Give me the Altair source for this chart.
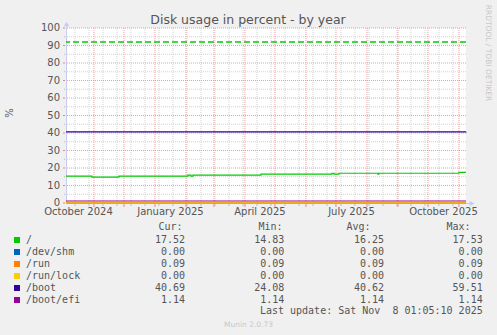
import altair as alt
import pandas as pd

# ---------------- data ----------------
names = ["/", "/dev/shm", "/run", "/run/lock", "/boot", "/boot/efi"]
colors = ["#00CC00", "#0066B3", "#FF8000", "#FFCC00", "#330099", "#990099"]

cur_vals = [17.52, 0.00, 0.09, 0.00, 40.69, 1.14]
min_vals = [14.83, 0.00, 0.09, 0.00, 24.08, 1.14]
avg_vals = [16.25, 0.00, 0.09, 0.00, 40.62, 1.14]
max_vals = [17.53, 0.00, 0.09, 0.00, 59.51, 1.14]

root_dates = ["2024-10-04T01:05:10", "2024-10-30T00:00:00", "2024-11-26T00:00:00",
              "2025-02-03T00:00:00", "2025-02-06T00:00:00", "2025-02-08T00:00:00",
              "2025-04-17T00:00:00", "2025-06-27T00:00:00", "2025-06-29T00:00:00",
              "2025-07-04T00:00:00", "2025-08-12T00:00:00", "2025-08-13T00:00:00",
              "2025-11-01T00:00:00", "2025-11-08T01:05:10"]
root_vals = [15.35, 14.83, 15.35, 15.9, 15.35, 15.9, 16.45, 17.0, 16.45, 17.0,
             16.5, 17.0, 17.52, 17.52]

span_dates = ["2024-10-04T01:05:10", "2025-11-08T01:05:10"]
shm_vals = [0.00, 0.00]
run_vals = [0.09, 0.09]
lock_vals = [0.00, 0.00]
boot_vals = [40.62, 40.69]
efi_vals = [1.14, 1.14]

warning_level = [92]

x_label_dates = ["2024-10-16T12:00:00", "2025-01-16T12:00:00", "2025-04-16T00:00:00",
                 "2025-07-16T12:00:00", "2025-10-16T12:00:00"]
x_label_text = ["October 2024", "January 2025", "April 2025", "July 2025", "October 2025"]
month_lines = ["2024-11-01", "2024-12-01", "2025-01-01", "2025-02-01", "2025-03-01",
               "2025-04-01", "2025-05-01", "2025-06-01", "2025-07-01", "2025-08-01",
               "2025-09-01", "2025-10-01", "2025-11-01"]
week_lines = [d.strftime("%Y-%m-%dT00:00:00") for d in
              pd.date_range("2024-10-13", "2025-11-08", freq="14D")]
y_ticks = list(range(0, 101, 10))
y_minor = list(range(5, 100, 10))

footer_text = "Last update: Sat Nov\u00a0\u00a08 01:05:10 2025"
version_text = "Munin 2.0.73"
title_text = "Disk usage in percent - by year"
side_text = "RRDTOOL / TOBI OETIKER"
y_title = "%"

# ---------------- chart ----------------
series_data = [("/", root_dates, root_vals), ("/dev/shm", span_dates, shm_vals),
               ("/run", span_dates, run_vals), ("/run/lock", span_dates, lock_vals),
               ("/boot", span_dates, boot_vals), ("/boot/efi", span_dates, efi_vals)]

x_scale = alt.Scale(domain=[alt.DateTime(year=2024, month=10, date=4, hours=1, minutes=5),
                            alt.DateTime(year=2025, month=11, date=8, hours=1, minutes=5)])
y_scale = alt.Scale(domain=[0, 100], nice=False, zero=True)
color_scale = alt.Scale(domain=names, range=colors)

FONT = "DejaVu Sans"
MONO = "DejaVu Sans Mono"
TXT = "#555555"
MAJOR = "#eaa0a0"
MINOR = "#d2d2d2"
AXIS = "#c8ccf0"

month_ts = [m + "T00:00:00" for m in month_lines]

def X(field):
    return alt.X(field, scale=x_scale, axis=None)

def Y(field):
    return alt.Y(field, scale=y_scale, axis=None)

layers = []

# grid
layers.append(alt.Chart(pd.DataFrame({"d": week_lines})).mark_rule(
    color=MINOR, strokeDash=[1, 1], strokeWidth=1).encode(x=X("d:T")))
layers.append(alt.Chart(pd.DataFrame({"v": y_minor})).mark_rule(
    color=MINOR, strokeDash=[1, 1], strokeWidth=1).encode(y=Y("v:Q")))
layers.append(alt.Chart(pd.DataFrame({"d": month_ts})).mark_rule(
    color=MAJOR, strokeDash=[1, 1], strokeWidth=1).encode(x=X("d:T")))
layers.append(alt.Chart(pd.DataFrame({"v": y_ticks[1:]})).mark_rule(
    color=MAJOR, strokeDash=[1, 1], strokeWidth=1).encode(y=Y("v:Q")))
# small ticks outside the axes
layers.append(alt.Chart(pd.DataFrame({"d": week_lines})).mark_rule(
    color="#bbbbbb", strokeWidth=1).encode(x=X("d:T"), y=alt.value(176), y2=alt.value(178)))
layers.append(alt.Chart(pd.DataFrame({"d": month_ts})).mark_rule(
    color="#e08888", strokeWidth=1).encode(x=X("d:T"), y=alt.value(176), y2=alt.value(179)))
layers.append(alt.Chart(pd.DataFrame({"v": y_ticks})).mark_rule(
    color="#e08888", strokeWidth=1).encode(y=Y("v:Q"), x=alt.value(-3), x2=alt.value(-1)))
layers.append(alt.Chart(pd.DataFrame({"v": y_minor})).mark_rule(
    color="#bbbbbb", strokeWidth=1).encode(y=Y("v:Q"), x=alt.value(-2), x2=alt.value(-1)))

# axis lines
layers.append(alt.Chart(pd.DataFrame({"a": [0]})).mark_rule(color=AXIS, strokeWidth=1).encode(
    x=alt.value(0.5), y=alt.value(-3), y2=alt.value(175.5)))
layers.append(alt.Chart(pd.DataFrame({"a": [0]})).mark_rule(color=AXIS, strokeWidth=1).encode(
    x=alt.value(0), x2=alt.value(404), y=alt.value(175.5)))

# warning line
layers.append(alt.Chart(pd.DataFrame({"v": warning_level})).mark_rule(
    color="#00CC00", strokeDash=[6, 3], strokeWidth=1.5).encode(y=Y("v:Q")))

# series lines (munin draw order)
for name, dates, vals in series_data:
    df = pd.DataFrame({"date": dates, "value": vals, "series": name})
    layers.append(alt.Chart(df).mark_line(interpolate="step-after", strokeWidth=1.2).encode(
        x=X("date:T"), y=Y("value:Q"),
        color=alt.Color("series:N", scale=color_scale, legend=None)))

# axis labels through the scales
layers.append(alt.Chart(pd.DataFrame({"d": x_label_dates, "t": x_label_text})).mark_text(
    font=FONT, fontSize=10, color=TXT, align="center", baseline="middle").encode(
    x=X("d:T"), y=alt.value(184), text="t:N"))
layers.append(alt.Chart(pd.DataFrame({"v": y_ticks})).mark_text(
    font=FONT, fontSize=10, color=TXT, align="right", baseline="middle").encode(
    y=Y("v:Q"), x=alt.value(-6), text="v:Q"))

# axis arrows
layers.append(alt.Chart(pd.DataFrame({"a": [0]})).mark_point(
    shape="triangle-up", filled=True, color="#c4cbf5", size=28, opacity=1).encode(
    x=alt.value(0.5), y=alt.value(-4)))
layers.append(alt.Chart(pd.DataFrame({"a": [0]})).mark_point(
    shape="triangle-right", filled=True, color="#c4cbf5", size=28, opacity=1).encode(
    x=alt.value(406), y=alt.value(175.5)))

# title and side texts
layers.append(alt.Chart(pd.DataFrame({"t": [title_text]})).mark_text(
    font=FONT, fontSize=12.5, color=TXT, align="center", baseline="middle").encode(
    text="t:N", x=alt.value(182), y=alt.value(-8.5)))
layers.append(alt.Chart(pd.DataFrame({"t": [y_title]})).mark_text(
    font=FONT, fontSize=10, color=TXT, align="center", baseline="middle", angle=270).encode(
    text="t:N", x=alt.value(-56), y=alt.value(85)))
layers.append(alt.Chart(pd.DataFrame({"t": [side_text]})).mark_text(
    font=FONT, fontSize=7.5, color="#c8c8c8", align="center", baseline="middle", angle=90).encode(
    text="t:N", x=alt.value(422), y=alt.value(25)))

# legend table
leg = pd.DataFrame({"name": names, "cur": cur_vals, "mn": min_vals,
                    "avg": avg_vals, "mx": max_vals, "idx": list(range(len(names)))})
leg_base = alt.Chart(leg).transform_calculate(py="212 + 12 * datum.idx")
ypix = alt.Y("py:Q", scale=None, axis=None)
layers.append(leg_base.mark_square(size=36, opacity=1, filled=True).encode(
    x=alt.value(-49), y=ypix,
    color=alt.Color("name:N", scale=color_scale, legend=None)))
layers.append(leg_base.mark_text(font=MONO, fontSize=10, color=TXT, align="left",
                                 baseline="middle").encode(
    text="name:N", x=alt.value(-40), y=ypix))
for field, xr in [("cur", 119), ("mn", 218.3), ("avg", 318), ("mx", 416.7)]:
    layers.append(leg_base.mark_text(font=MONO, fontSize=10, color=TXT, align="right",
                                     baseline="middle").encode(
        text=alt.Text(f"{field}:Q", format=".2f"), x=alt.value(xr), y=ypix))

for h, xr in [("Cur:", 116.5), ("Min:", 216.5), ("Avg:", 304.5), ("Max:", 404.5)]:
    layers.append(alt.Chart(pd.DataFrame({"h": [h]})).mark_text(
        font=MONO, fontSize=10, color=TXT, align="right", baseline="middle").encode(
        text="h:N", x=alt.value(xr), y=alt.value(199.3)))

layers.append(alt.Chart(pd.DataFrame({"t": [footer_text]})).mark_text(
    font=MONO, fontSize=10, color=TXT, align="right", baseline="middle").encode(
    text="t:N", x=alt.value(416.7), y=alt.value(282.7)))
layers.append(alt.Chart(pd.DataFrame({"t": [version_text]})).mark_text(
    font=FONT, fontSize=7.5, color="#c8c8c8", align="center", baseline="middle").encode(
    text="t:N", x=alt.value(182.5), y=alt.value(297)))

chart = alt.layer(*layers).properties(
    width=400, height=175,
    autosize=alt.AutoSizeParams(type="none"),
    padding={"left": 66, "top": 28, "right": 31, "bottom": 132},
    background="#F0F0F0",
).configure_view(fill="white", stroke=None)

chart.save("out.html", embed_options={"renderer": "svg", "actions": False})
